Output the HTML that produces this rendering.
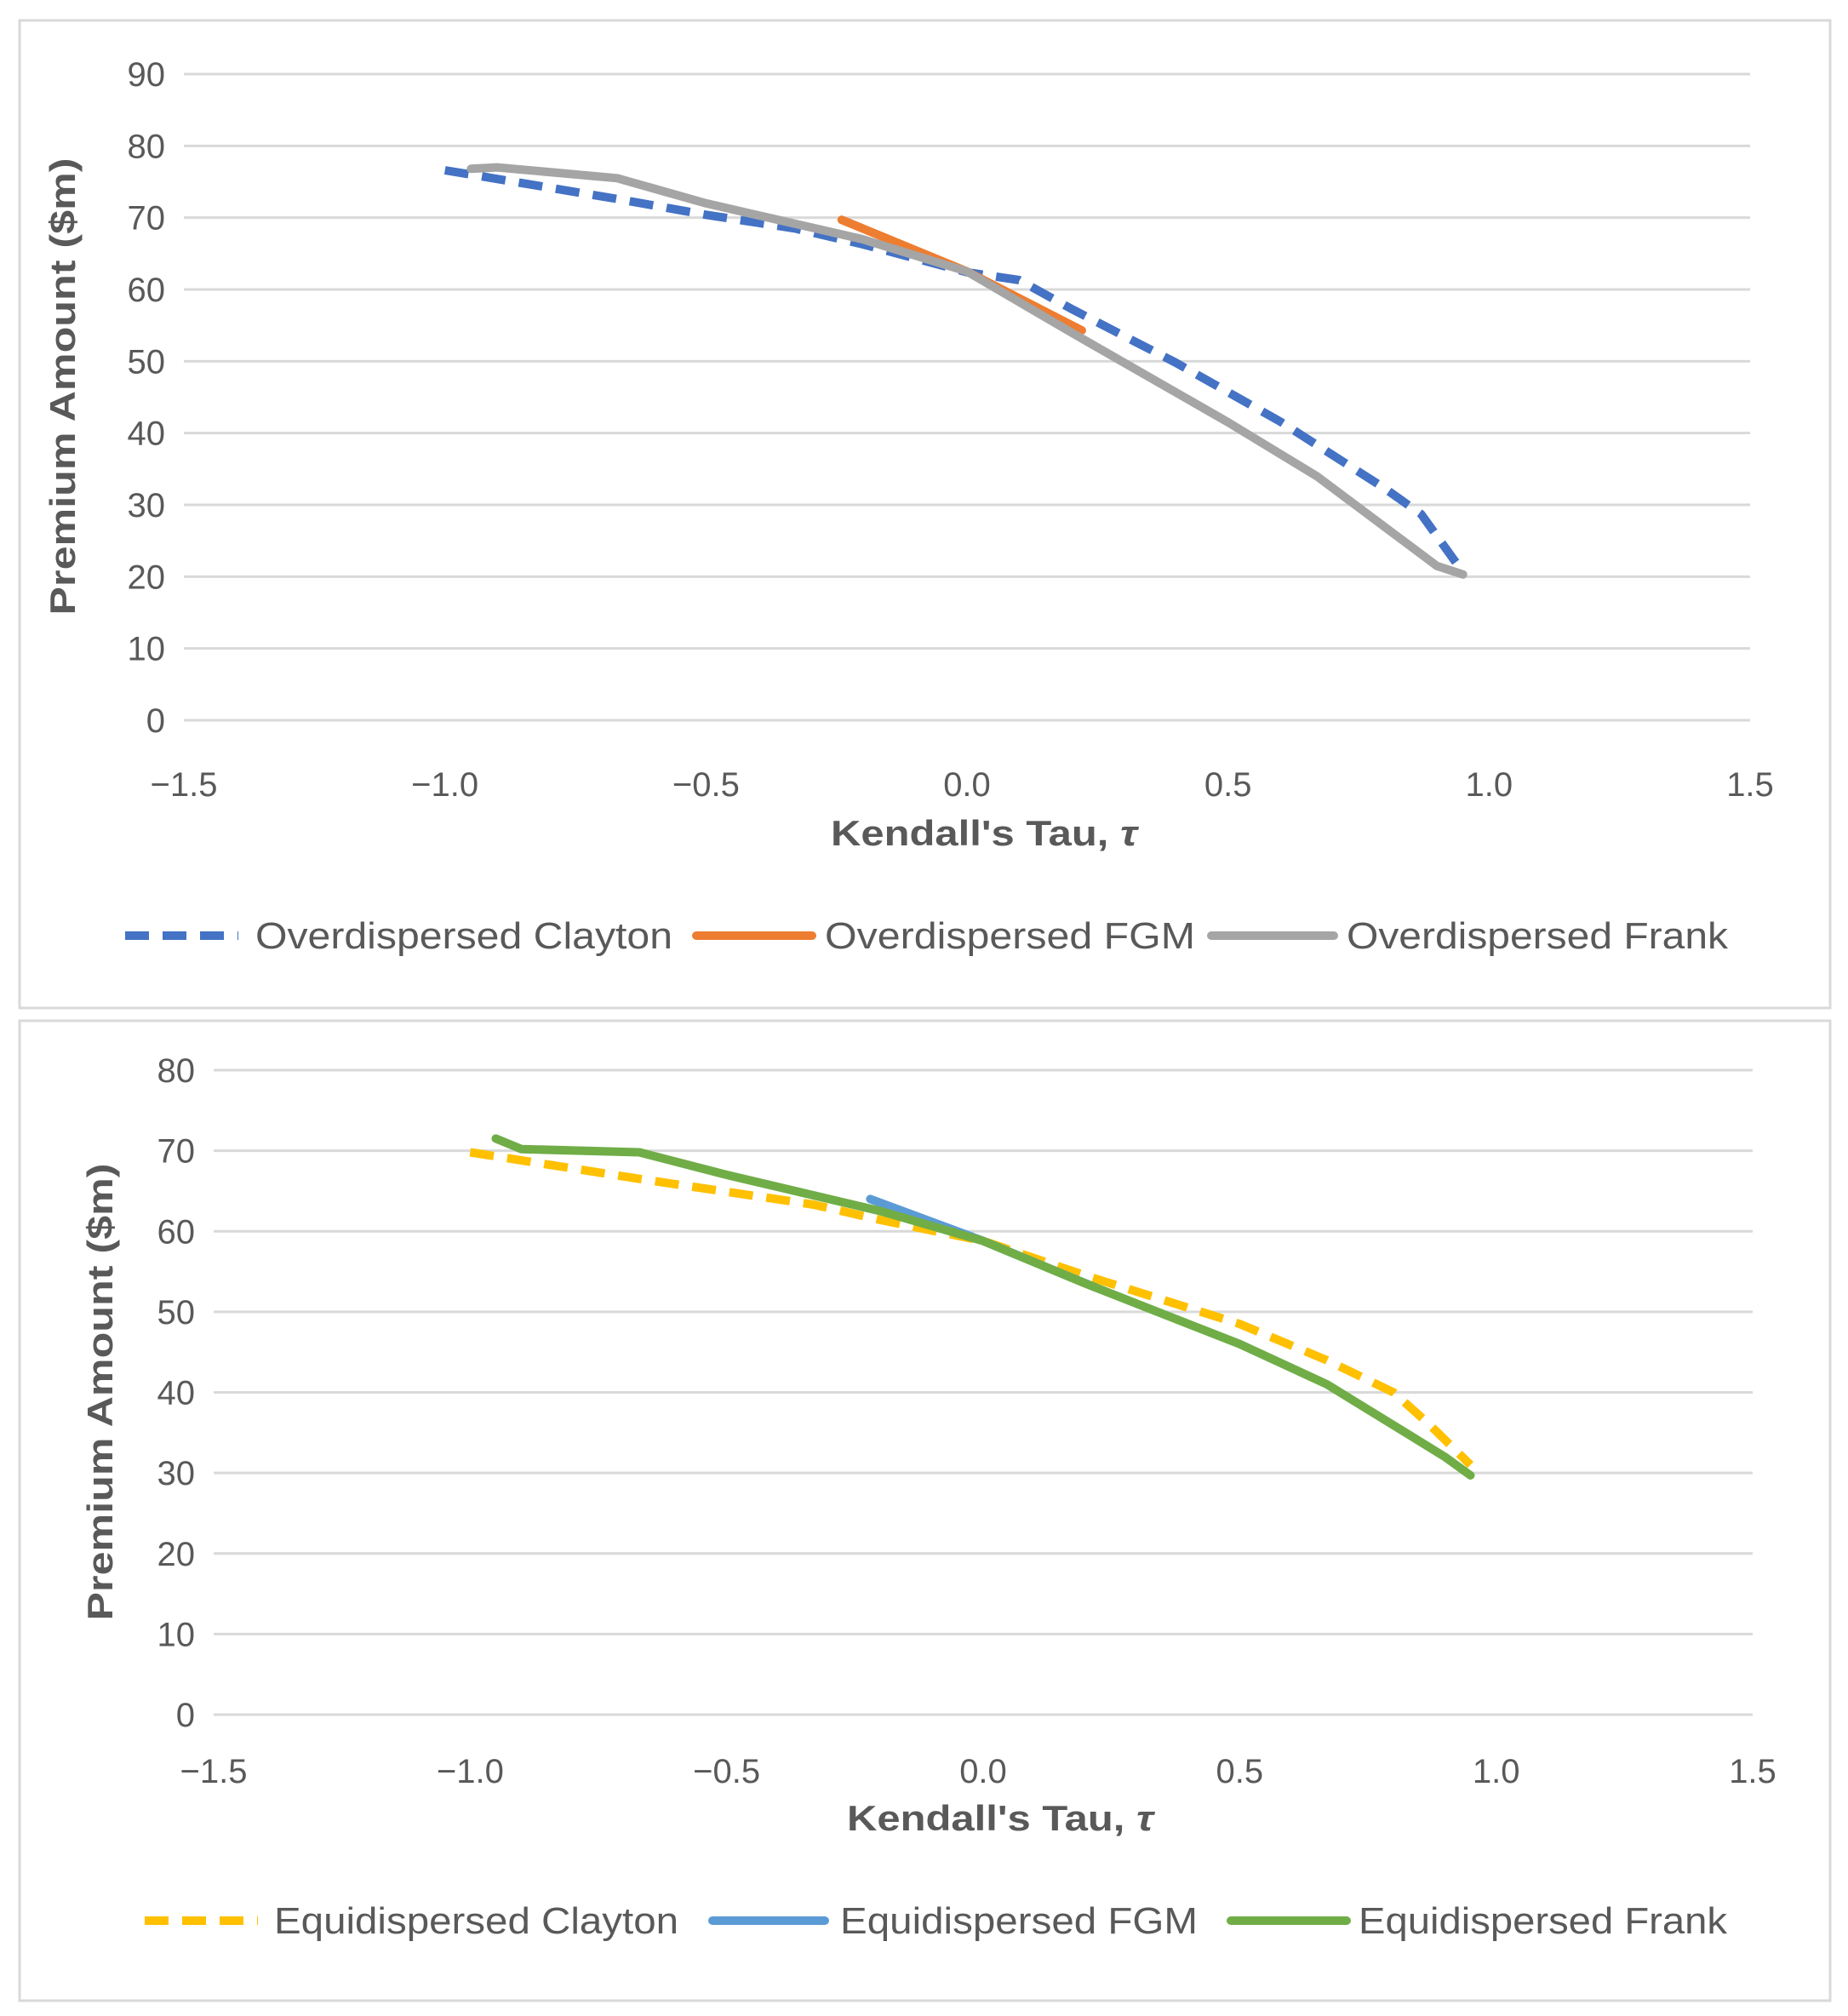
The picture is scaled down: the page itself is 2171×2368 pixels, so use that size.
<!DOCTYPE html>
<html><head><meta charset="utf-8"><style>
body{margin:0;background:#fff;}
svg{display:block;font-family:"Liberation Sans",Arial,sans-serif;}
</style></head><body>
<svg id="chart" width="2171" height="2368" viewBox="0 0 2171 2368">
<rect x="23" y="24" width="2127" height="1160" fill="#fff" stroke="#d9d9d9" stroke-width="3"/>
<rect x="23" y="1199" width="2127" height="1151" fill="#fff" stroke="#d9d9d9" stroke-width="3"/>
<g id="g1"></g>
<g id="g2"></g>
</svg>
<script>
const xTicks = [-1.5,-1.0,-0.5,0.0,0.5,1.0,1.5];
const xTickLabels = ["\u22121.5","\u22121.0","\u22120.5","0.0","0.5","1.0","1.5"];
const yTicks1 = [0,10,20,30,40,50,60,70,80,90];
const yTicks2 = [0,10,20,30,40,50,60,70,80];

const odClaytonX = [-1.0,-0.67,-0.5,-0.33,-0.2,0,0.1,0.2,0.4,0.6,0.8,0.87,0.95];
const odClaytonY = [76.6,72.6,70.4,68.5,66.3,62.4,61.3,57.3,49.8,41.6,32.3,28.7,20.6];
const odFgmX = [-0.24,0,0.22];
const odFgmY = [69.7,62.5,54.3];
const odFrankX = [-0.95,-0.9,-0.67,-0.5,-0.2,0,0.2,0.5,0.67,0.9,0.95];
const odFrankY = [76.8,77.0,75.5,72.0,67.0,62.5,54.0,41.5,34.0,21.5,20.3];

const eqClaytonX = [-1.0,-0.67,-0.33,-0.2,0,0.2,0.5,0.67,0.8,0.87,0.95];
const eqClaytonY = [69.8,66.5,63.3,61.4,58.8,54.5,48.5,44.0,40.0,36.0,31.0];
const eqFgmX = [-0.22,0,0.22];
const eqFgmY = [64.0,58.8,53.0];
const eqFrankX = [-0.95,-0.9,-0.67,-0.5,-0.2,0,0.2,0.5,0.67,0.9,0.95];
const eqFrankY = [71.5,70.2,69.8,67.0,62.5,58.8,53.5,46.0,41.0,32.0,29.7];

const NS="http://www.w3.org/2000/svg";
function mk(parent,tag,attrs,text){const e=document.createElementNS(NS,tag);for(const k in attrs)e.setAttribute(k,attrs[k]);if(text!==undefined)e.textContent=text;parent.appendChild(e);return e;}

function drawChart(gid, cfg){
  const g=document.getElementById(gid);
  const xs=v=>cfg.x0+(v+1.5)/3*(cfg.x1-cfg.x0);
  const ys=v=>cfg.y0-(v/cfg.ymax)*(cfg.y0-cfg.yTop);
  cfg.yticks.forEach(t=>{
    const l=mk(g,'line',{x1:cfg.x0,x2:cfg.x1,y1:ys(t),y2:ys(t),stroke:'#d9d9d9','stroke-width':3});
    
    
    const tx=mk(g,'text',{x:cfg.x0-22,y:ys(t)+14,'text-anchor':'end','font-size':40,fill:'#595959'},String(t));
    
    
  });
  xTicks.forEach((t,i)=>{
    const tx=mk(g,'text',{x:xs(t),y:cfg.xLabY,'text-anchor':'middle','font-size':40,fill:'#595959'},xTickLabels[i]);
    
    
  });
  const xt=mk(g,'text',{x:(cfg.x0+cfg.x1)/2+20,y:cfg.xTitleY,'text-anchor':'middle','font-size':42,'font-weight':'bold',fill:'#595959',textLength:360,lengthAdjust:'spacingAndGlyphs'},"Kendall's Tau, ");
  mk(xt,'tspan',{'font-style':'italic'},'\u03c4');
  
  
  const yt=mk(g,'text',{x:0,y:0,transform:`translate(${cfg.yTitleX},${cfg.yTitleC}) rotate(-90)`,'text-anchor':'middle','font-size':42,'font-weight':'bold',fill:'#595959',textLength:537,lengthAdjust:'spacingAndGlyphs'},'Premium Amount ($m)');
  
  
  cfg.series.forEach(s=>{
    const pts=s.x.map((v,i)=>xs(v).toFixed(1)+','+ys(s.y[i]).toFixed(1)).join(' ');
    const p=mk(g,'polyline',{points:pts,fill:'none',stroke:s.color,'stroke-width':10,'stroke-linejoin':'round','stroke-linecap':s.dash?'butt':'round'});
    if(s.dash)p.setAttribute('stroke-dasharray','28 16');
    
    
    const ln=mk(g,'line',{x1:s.lx1,x2:s.lx2,y1:cfg.legY,y2:cfg.legY,stroke:s.color,'stroke-width':10,'stroke-linecap':s.dash?'butt':'round'});
    if(s.dash)ln.setAttribute('stroke-dasharray','28 16');
    
    
    const lt=mk(g,'text',{x:s.tx,y:cfg.legY+15,'font-size':44,fill:'#595959',textLength:s.tw,lengthAdjust:'spacingAndGlyphs'},s.label);
    
    
  });
}
drawChart('g1',{x0:216,x1:2056,y0:846,yTop:87,ymax:90,yticks:yTicks1,xLabY:935,xTitleY:993,yTitleX:88,yTitleC:454,legY:1099,
 series:[
  {x:odClaytonX,y:odClaytonY,color:'#4472C4',dash:true,name:'series-overdispersed-clayton',label:'Overdispersed Clayton',lx1:147,lx2:280,tx:300,tw:490},
  {x:odFgmX,y:odFgmY,color:'#ED7D31',dash:false,name:'series-overdispersed-fgm',label:'Overdispersed FGM',lx1:818,lx2:954,tx:969,tw:435},
  {x:odFrankX,y:odFrankY,color:'#A5A5A5',dash:false,name:'series-overdispersed-frank',label:'Overdispersed Frank',lx1:1423,lx2:1567,tx:1582,tw:448}
 ]});
drawChart('g2',{x0:251,x1:2059,y0:2014,yTop:1257,ymax:80,yticks:yTicks2,xLabY:2094,xTitleY:2150,yTitleX:132,yTitleC:1635,legY:2256,
 series:[
  {x:eqClaytonX,y:eqClaytonY,color:'#FFC000',dash:true,name:'series-equidispersed-clayton',label:'Equidispersed Clayton',lx1:170,lx2:303,tx:322,tw:475},
  {x:eqFgmX,y:eqFgmY,color:'#5B9BD5',dash:false,name:'series-equidispersed-fgm',label:'Equidispersed FGM',lx1:837,lx2:969,tx:987,tw:420},
  {x:eqFrankX,y:eqFrankY,color:'#70AD47',dash:false,name:'series-equidispersed-frank',label:'Equidispersed Frank',lx1:1446,lx2:1582,tx:1596,tw:433}
 ]});
</script>
</body></html>
